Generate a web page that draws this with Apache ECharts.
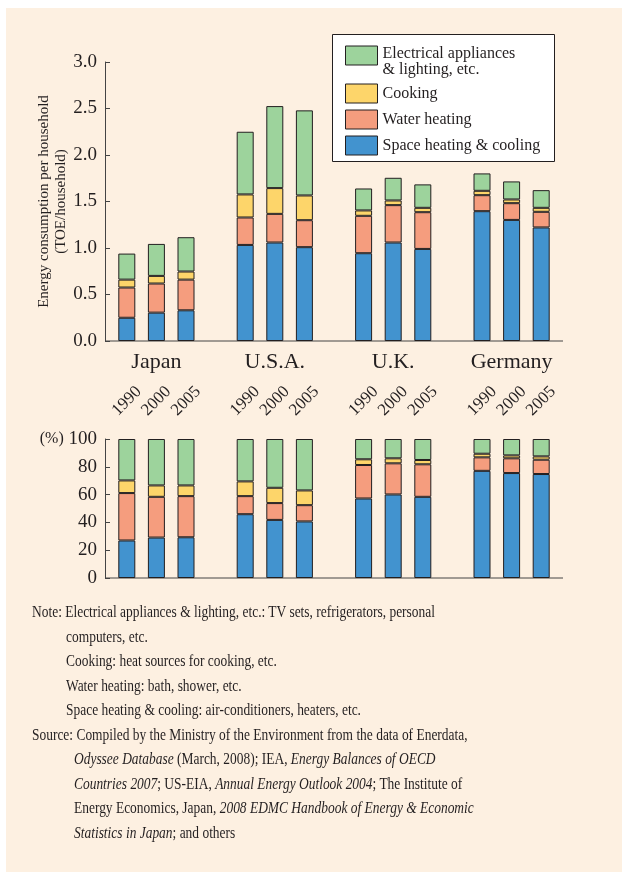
<!DOCTYPE html>
<html lang="en">
<head>
<meta charset="UTF-8">
<title>Energy consumption per household</title>
<style>
    html, body { margin: 0; padding: 0; background: #fdf0e1; overflow: hidden; }
    #main { position: absolute; left: 0; top: 0; width: 622px; height: 872px; }
    #notes {
        position: absolute; left: 32px; top: 600px;
        font-family: 'Liberation Serif', 'Times New Roman', serif;
        font-size: 16px; line-height: 24.5px; color: #231f20; white-space: nowrap;
        transform: scaleX(0.84); transform-origin: 0 0;
    }
    #notes .i1 { padding-left: 40.5px; }
    #notes .i2 { padding-left: 50px; }
</style>
</head>
<body>
<div id="main"></div>
<div id="notes">
    <div>Note: Electrical appliances &amp; lighting, etc.: TV sets, refrigerators, personal</div>
    <div class="i1">computers, etc.</div>
    <div class="i1">Cooking: heat sources for cooking, etc.</div>
    <div class="i1">Water heating: bath, shower, etc.</div>
    <div class="i1">Space heating &amp; cooling: air-conditioners, heaters, etc.</div>
    <div>Source: Compiled by the Ministry of the Environment from the data of Enerdata,</div>
    <div class="i2"><i>Odyssee Database</i> (March, 2008); IEA, <i>Energy Balances of OECD</i></div>
    <div class="i2"><i>Countries 2007</i>; US-EIA, <i>Annual Energy Outlook 2004</i>; The Institute of</div>
    <div class="i2">Energy Economics, Japan, <i>2008 EDMC Handbook of Energy &amp; Economic</i></div>
    <div class="i2"><i>Statistics in Japan</i>; and others</div>
</div>
<script src="https://cdn.jsdelivr.net/npm/echarts@6/dist/echarts.min.js"></script>
<script>
    var countries = ['Japan', 'U.S.A.', 'U.K.', 'Germany'];
    var years = ['1990', '2000', '2005'];

    // TOE per household, Japan x3, U.S.A. x3, U.K. x3, Germany x3
    var spaceToe   = [0.25, 0.305, 0.33, 1.033, 1.059, 1.009, 0.944, 1.059, 0.99, 1.396, 1.302, 1.221];
    var waterToe   = [0.325, 0.313, 0.33, 0.295, 0.308, 0.29, 0.402, 0.402, 0.395, 0.172, 0.18, 0.168];
    var cookingToe = [0.085, 0.082, 0.087, 0.248, 0.277, 0.266, 0.058, 0.05, 0.047, 0.047, 0.04, 0.043];
    var elecToe    = [0.28, 0.344, 0.369, 0.674, 0.882, 0.915, 0.236, 0.244, 0.252, 0.187, 0.194, 0.19];

    // shares in %
    var spacePct   = [27.0, 29.1, 29.3, 45.9, 41.8, 40.7, 57.2, 60.1, 58.4, 77.1, 75.5, 74.8];
    var waterPct   = [34.1, 29.3, 29.6, 13.0, 12.1, 11.7, 24.1, 22.4, 23.4, 9.7, 10.6, 10.3];
    var cookingPct = [9.1, 8.2, 7.7, 10.6, 11.0, 10.6, 4.1, 3.6, 3.1, 2.6, 2.1, 2.4];
    var elecPct    = [29.8, 33.4, 33.4, 30.5, 35.1, 37.0, 14.6, 13.9, 15.1, 10.6, 11.8, 12.5];

    var names = ['Space heating & cooling', 'Water heating', 'Cooking', 'Electrical appliances\n& lighting, etc.'];
    var colors = ['#4293cf', '#f59d7e', '#fdd56a', '#9dd39c'];

    var font = "'Liberation Serif', 'Times New Roman', serif";
    var ink = '#231f20';

    // 3 bars per country, one empty slot between countries
    var cats = [], countryCats = [];
    countries.forEach(function (c, i) {
        years.forEach(function (y, j) {
            cats.push(y);
            countryCats.push(j === 1 ? c : '');
        });
        if (i < countries.length - 1) {
            cats.push('');
            countryCats.push('');
        }
    });

    function spread(arr) {
        var out = [];
        for (var i = 0; i < arr.length; i++) {
            out.push(arr[i]);
            if (i % 3 === 2 && i < arr.length - 1) out.push(null);
        }
        return out;
    }

    var toe = [spaceToe, waterToe, cookingToe, elecToe];
    var pct = [spacePct, waterPct, cookingPct, elecPct];

    var series = [];
    for (var k = 0; k < 4; k++) {
        var style = {color: colors[k], borderColor: ink, borderWidth: 1};
        series.push({
            name: names[k], type: 'bar', stack: 'toe', barWidth: 17,
            xAxisIndex: 0, yAxisIndex: 0, itemStyle: style, data: spread(toe[k])
        });
        series.push({
            name: names[k], type: 'bar', stack: 'pct', barWidth: 17,
            xAxisIndex: 2, yAxisIndex: 1, itemStyle: style, data: spread(pct[k])
        });
    }

    var tickEvery = function (idx) { return idx !== 0; };

    var option = {
        backgroundColor: '#fdf0e1',
        animation: false,
        textStyle: {fontFamily: font, color: ink},
        grid: [
            {left: 112, top: 62, width: 444, height: 279},
            {left: 112, top: 439, width: 444, height: 139}
        ],
        xAxis: [
            {
                gridIndex: 0, type: 'category', data: cats, position: 'bottom',
                axisLine: {show: false},
                axisTick: {inside: true, length: 4, interval: tickEvery, lineStyle: {color: '#444'}},
                axisLabel: {interval: 0, rotate: 45, align: 'center', margin: 60,
                    fontSize: 17, fontFamily: font, color: ink}
            },
            {
                gridIndex: 0, type: 'category', data: countryCats, position: 'bottom',
                axisLine: {show: false}, axisTick: {show: false},
                axisLabel: {interval: 0, margin: 10, fontSize: 22, fontFamily: font, color: ink}
            },
            {
                gridIndex: 1, type: 'category', data: cats, position: 'bottom',
                axisLine: {show: false},
                axisTick: {inside: true, length: 4, interval: tickEvery, lineStyle: {color: '#444'}},
                axisLabel: {show: false}
            }
        ],
        yAxis: [
            {
                gridIndex: 0, type: 'value', min: 0, max: 3, interval: 0.5, offset: 7,
                name: 'Energy consumption per household\n(TOE/household)',
                nameLocation: 'middle', nameGap: 35, nameMoveOverlap: false,
                nameTextStyle: {fontSize: 15, lineHeight: 17, fontFamily: font, color: ink},
                axisLine: {show: true, lineStyle: {color: '#444'}},
                axisTick: {show: true, inside: true, length: 5, lineStyle: {color: '#444'}},
                splitLine: {show: false},
                axisLabel: {fontSize: 19, margin: 8, fontFamily: font, color: ink,
                    formatter: function (v) { return v.toFixed(1); }}
            },
            {
                gridIndex: 1, type: 'value', min: 0, max: 100, interval: 20, offset: 7,
                axisLine: {show: true, lineStyle: {color: '#444'}},
                axisTick: {show: true, inside: true, length: 5, lineStyle: {color: '#444'}},
                splitLine: {show: false},
                axisLabel: {fontSize: 19, margin: 8, fontFamily: font, color: ink,
                    formatter: function (v) { return v === 100 ? '{p|(%)} 100' : String(v); },
                    rich: {p: {fontSize: 16, fontFamily: font, color: ink}}}
            }
        ],
        legend: {
            orient: 'vertical', left: 345, top: 33.5, padding: 0,
            itemWidth: 32, itemHeight: 19, itemGap: 6,
            icon: 'rect',
            itemStyle: {borderColor: ink, borderWidth: 1},
            // blank first line keeps the two-line label level with the top of its swatch
            formatter: function (name) {
                return name === names[3] ? '{s| }\n' + name : name;
            },
            textStyle: {fontSize: 16, lineHeight: 16, fontFamily: font, color: ink,
                rich: {s: {fontSize: 8, lineHeight: 12}}},
            data: [names[3], names[2], names[1], names[0]]
        },
        graphic: [
            // white page margin above and left of the tinted panel
            {type: 'rect', z: -10, silent: true, shape: {x: 0, y: 0, width: 622, height: 8},
                style: {fill: '#fff'}},
            {type: 'rect', z: -10, silent: true, shape: {x: 0, y: 0, width: 6, height: 872},
                style: {fill: '#fff'}},
            {type: 'rect', z: -5, silent: true, shape: {x: 332.5, y: 34.5, width: 222, height: 127},
                style: {fill: '#fff', stroke: ink, lineWidth: 1}},
            {type: 'line', silent: true, shape: {x1: 105, y1: 341, x2: 563, y2: 341},
                style: {stroke: '#444', lineWidth: 1}},
            {type: 'line', silent: true, shape: {x1: 105, y1: 578, x2: 563, y2: 578},
                style: {stroke: '#444', lineWidth: 1}}
        ],
        series: series
    };

    var chart = echarts.init(document.getElementById('main'));
    chart.setOption(option);
</script>
</body>
</html>
